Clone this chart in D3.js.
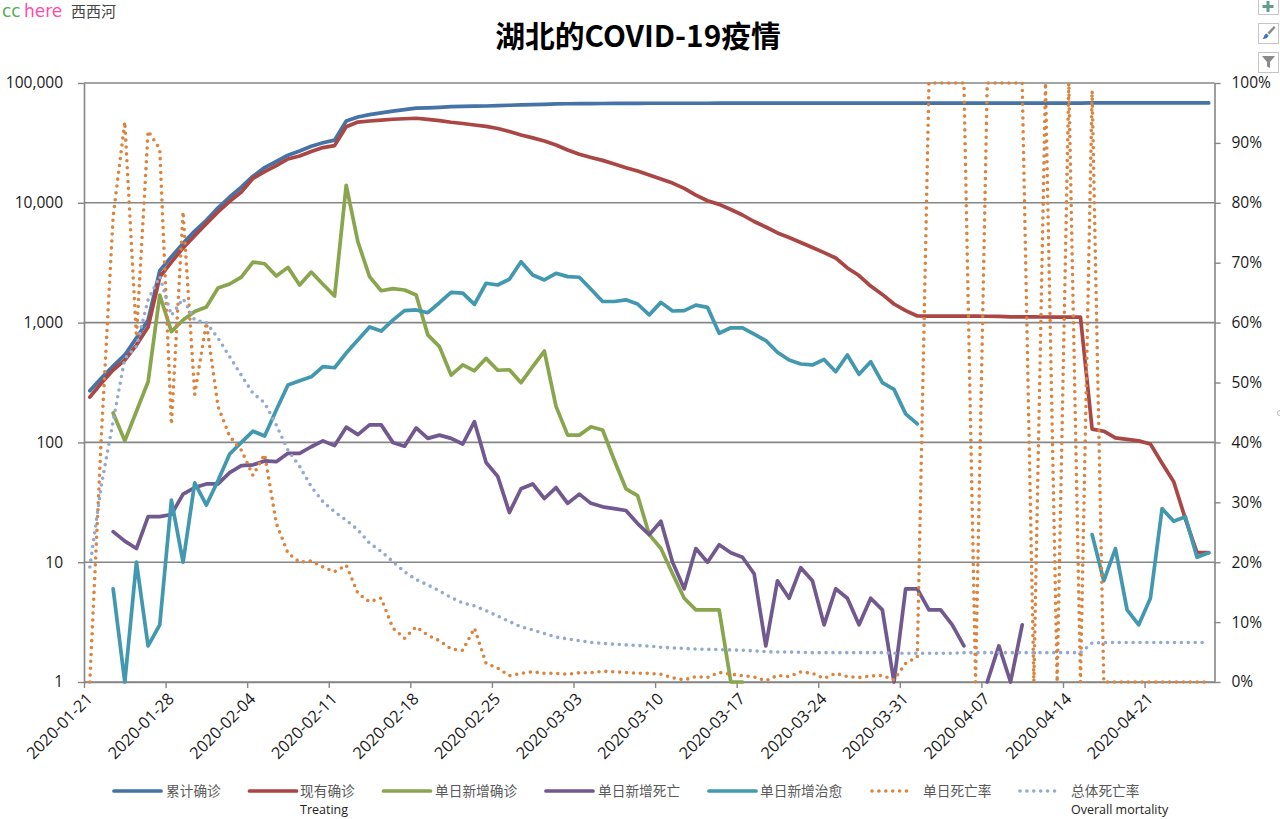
<!DOCTYPE html>
<html>
<head>
<meta charset="utf-8">
<script src="https://cdn.jsdelivr.net/npm/d3@7"></script>
<style>
  html, body { margin: 0; padding: 0; background: #fff; }
  svg { display: block; }
  text { font-family: "Open Sans", "Noto Sans CJK SC", sans-serif; }
  .cjk { font-family: "Noto Sans CJK SC", sans-serif; }
</style>
</head>
<body>
<div id="chart"></div>
<script>
var dates = [
  "2020-01-21","2020-01-22","2020-01-23","2020-01-24","2020-01-25","2020-01-26","2020-01-27","2020-01-28","2020-01-29","2020-01-30",
  "2020-01-31","2020-02-01","2020-02-02","2020-02-03","2020-02-04","2020-02-05","2020-02-06","2020-02-07","2020-02-08","2020-02-09",
  "2020-02-10","2020-02-11","2020-02-12","2020-02-13","2020-02-14","2020-02-15","2020-02-16","2020-02-17","2020-02-18","2020-02-19",
  "2020-02-20","2020-02-21","2020-02-22","2020-02-23","2020-02-24","2020-02-25","2020-02-26","2020-02-27","2020-02-28","2020-02-29",
  "2020-03-01","2020-03-02","2020-03-03","2020-03-04","2020-03-05","2020-03-06","2020-03-07","2020-03-08","2020-03-09","2020-03-10",
  "2020-03-11","2020-03-12","2020-03-13","2020-03-14","2020-03-15","2020-03-16","2020-03-17","2020-03-18","2020-03-19","2020-03-20",
  "2020-03-21","2020-03-22","2020-03-23","2020-03-24","2020-03-25","2020-03-26","2020-03-27","2020-03-28","2020-03-29","2020-03-30",
  "2020-03-31","2020-04-01","2020-04-02","2020-04-03","2020-04-04","2020-04-05","2020-04-06","2020-04-07","2020-04-08","2020-04-09",
  "2020-04-10","2020-04-11","2020-04-12","2020-04-13","2020-04-14","2020-04-15","2020-04-16","2020-04-17","2020-04-18","2020-04-19",
  "2020-04-20","2020-04-21","2020-04-22","2020-04-23","2020-04-24","2020-04-25","2020-04-26"
];

var tickLabels = ["2020-01-21","2020-01-28","2020-02-04","2020-02-11","2020-02-18","2020-02-25","2020-03-03",
  "2020-03-10","2020-03-17","2020-03-24","2020-03-31","2020-04-07","2020-04-14","2020-04-21"];
var leftTicks = [1, 10, 100, 1000, 10000, 100000];
var rightTicks = [0, 0.1, 0.2, 0.3, 0.4, 0.5, 0.6, 0.7, 0.8, 0.9, 1];

var total = [
  270,345,434,537,745,1052,2714,3554,4586,5806,
  7153,9074,11177,13522,16678,19665,22112,24953,27100,29631,
  31728,33366,48206,51986,54406,56249,58182,59989,61682,62031,
  62662,63454,63889,64084,64287,64786,65187,65596,65914,66337,
  66907,67103,67217,67332,67466,67592,67666,67707,67743,67760,
  67773,67781,67786,67790,67794,67798,67799,67800,67800,67800,
  67800,67801,67801,67801,67801,67801,67801,67801,67802,67802,
  67802,67802,67802,67802,67802,67802,67803,67803,67803,67803,
  67803,67803,67803,67803,67803,67803,68128,68128,68128,68128,
  68128,68128,68128,68128,68128,68128,68128
];
var treating = [
  239,313,402,487,650,919,2400,3200,4200,5300,
  6700,8400,10300,12300,16000,18200,20400,23200,24600,26800,
  28900,30000,43150,47200,48200,49000,49800,50300,50800,49700,
  48500,47000,45900,44600,43500,41700,39400,36800,34800,32800,
  30400,27600,25400,23900,22600,21100,19600,18400,17100,15800,
  14600,13200,11600,10400,9700,8790,7910,6980,6280,5600,
  5130,4660,4230,3840,3460,2860,2470,2020,1720,1430,
  1260,1135,1134,1134,1133,1132,1131,1130,1125,1118,
  1116,1115,1114,1113,1112,1110,129,124,109,106,
  103,97,67,47,23,12,12
];
var newConfirmed = [
  null,null,176,103,182,321,1700,840,1050,1240,
  1350,1945,2100,2400,3200,3100,2450,2890,2060,2640,
  2090,1665,14000,4730,2420,1845,1920,1870,1700,790,
  630,365,443,396,503,400,404,315,429,579,
  200,115,115,135,127,71,41,36,17,13,
  8,5,4,4,4,1,1,null,null,null,
  null,null,null,null,null,null,null,null,null,null,
  null,null,null,null,null,null,null,null,null,null,
  null,null,null,null,null,null,null,null,null,null,
  null,null,null,null,null,null,null
];
var newDeaths = [
  null,null,18,15,13,24,24,25,37,42,
  45,45,56,64,65,70,69,81,81,92,
  103,94,134,116,140,140,100,93,132,108,
  115,108,97,149,68,52,26,41,45,34,
  42,31,37,31,29,28,27,21,17,22,
  10,6,13,10,14,12,11,8,2,7,
  5,9,7,3,6,5,3,5,4,1,
  6,6,4,4,3,2,null,1,2,1,
  3,null,null,null,null,null,null,null,null,null,
  null,null,null,null,null,null,null
];
var newRecovered = [
  null,null,6,1,10,2,3,33,10,46,
  30,48,80,100,124,113,186,301,327,353,
  429,420,557,716,919,850,1050,1260,1275,1210,
  1465,1790,1760,1420,2130,2060,2300,3220,2500,2270,
  2580,2420,2390,1900,1500,1500,1550,1430,1160,1475,
  1250,1260,1400,1340,815,905,905,800,708,565,
  487,451,443,493,389,537,370,472,315,277,
  173,143,null,null,null,null,null,null,null,null,
  null,null,null,null,null,null,17,7,13,4,
  3,5,28,22,24,11,12
];
var dailyRate = [
  0,0.415,0.777,0.935,0.576,0.92,0.89,0.43,0.785,0.48,
  0.6,0.46,0.41,0.387,0.345,0.38,0.265,0.215,0.2,0.202,
  0.192,0.184,0.195,0.148,0.134,0.14,0.09,0.073,0.092,0.078,
  0.069,0.055,0.053,0.09,0.031,0.023,0.0105,0.0145,0.017,0.0145,
  0.0145,0.013,0.0155,0.0155,0.018,0.017,0.016,0.0145,0.0145,0.013,
  0.007,0.0035,0.009,0.0075,0.016,0.013,0.0105,0.0085,0.002,0.011,
  0.009,0.017,0.0145,0.006,0.0145,0.009,0.0075,0.01,0.011,0.0035,
  0.031,0.042,1,1,1,1,0,1,1,1,
  1,0,1,0,1,0,0.987,0,0,0,
  0,0,0,0,0,0,0
];
var overallRate = [
  0.192,0.33,0.435,0.54,0.56,0.638,0.677,0.612,0.64,0.604,
  0.6,0.574,0.543,0.512,0.482,0.466,0.429,0.387,0.36,0.326,
  0.301,0.284,0.27,0.254,0.232,0.218,0.201,0.184,0.171,0.162,
  0.152,0.141,0.132,0.127,0.119,0.11,0.101,0.092,0.087,0.081,
  0.075,0.072,0.069,0.066,0.0645,0.063,0.062,0.061,0.06,0.058,
  0.057,0.056,0.055,0.0545,0.054,0.0535,0.053,0.052,0.0505,0.05,
  0.05,0.0495,0.049,0.049,0.049,0.049,0.049,0.049,0.049,0.048,
  0.048,0.048,0.048,0.048,0.048,0.049,0.049,0.049,0.049,0.049,
  0.049,0.049,0.049,0.049,0.049,0.049,0.065,0.066,0.066,0.066,
  0.066,0.066,0.066,0.066,0.066,0.066,0.066
];

var seriesNames = ["累计确诊","现有确诊","单日新增确诊","单日新增死亡","单日新增治愈","单日死亡率","总体死亡率"];
var seriesColors = ["#4572A7","#AA4643","#89A54E","#71588F","#4198AF","#DB843D","#93A9CF"];

var svgWidth = 1280;
var svgHeight = 819;
var margin = { top: 83, right: 1214.5, bottom: 682, left: 84 };
var gridColor = "#868686";

var svg = d3.select("#chart")
  .append("svg")
  .attr("width", svgWidth)
  .attr("height", svgHeight);

var parseDate = d3.utcParse("%Y-%m-%d");
var dayList = dates.map(parseDate);

var xScale = d3.scaleUtc()
  .domain([dayList[0], d3.utcDay.offset(dayList[dayList.length - 1], 1)])
  .range([margin.left, margin.right]);
var yLeft = d3.scaleLog().domain([1, 100000]).range([margin.bottom, margin.top]);
var yRight = d3.scaleLinear().domain([0, 1]).range([margin.bottom, margin.top]);

// points sit in the middle of each day's slot, ticks on the slot edges
function xMid(i) { return xScale(d3.utcHour.offset(dayList[i], 12)); }

// gridlines
svg.append("g").selectAll("line")
  .data(leftTicks)
  .enter()
  .append("line")
  .attr("x1", margin.left)
  .attr("x2", margin.right)
  .attr("y1", d => yLeft(d))
  .attr("y2", d => yLeft(d))
  .attr("stroke", gridColor)
  .attr("stroke-width", 1.6);

function styleAxis(g) {
  g.selectAll(".domain").attr("stroke", gridColor).attr("stroke-width", 1.6);
  g.selectAll(".tick line").attr("stroke", gridColor).attr("stroke-width", 1.4);
  g.selectAll(".tick text").attr("fill", "#1a1a1a").style("font-size", "15.5px");
}

var leftAxis = d3.axisLeft(yLeft)
  .tickValues(leftTicks)
  .tickFormat(d3.format(","))
  .tickSize(6)
  .tickPadding(15)
  .tickSizeOuter(0);
svg.append("g")
  .attr("transform", `translate(${margin.left}, 0)`)
  .call(leftAxis)
  .call(styleAxis);

var rightAxis = d3.axisRight(yRight)
  .tickValues(rightTicks)
  .tickFormat(d3.format(".0%"))
  .tickSize(6)
  .tickPadding(11)
  .tickSizeOuter(0);
svg.append("g")
  .attr("transform", `translate(${margin.right}, 0)`)
  .call(rightAxis)
  .call(styleAxis);

var bottomAxis = d3.axisBottom(xScale)
  .tickValues(tickLabels.map(parseDate))
  .tickFormat(d3.utcFormat("%Y-%m-%d"))
  .tickSize(6)
  .tickSizeOuter(0);
svg.append("g")
  .attr("transform", `translate(0, ${margin.bottom})`)
  .call(bottomAxis)
  .call(styleAxis)
  .selectAll(".tick text")
  .style("font-size", "16.3px")
  .attr("text-anchor", "end")
  .attr("x", 9)
  .attr("y", 18)
  .attr("dy", 0)
  .attr("transform", "rotate(-45, 9, 18)");

// series
var solidSeries = [
  { values: total, scale: yLeft, color: 0 },
  { values: treating, scale: yLeft, color: 1 },
  { values: newConfirmed, scale: yLeft, color: 2 },
  { values: newDeaths, scale: yLeft, color: 3 },
  { values: newRecovered, scale: yLeft, color: 4 }
];
var dottedSeries = [
  { values: dailyRate, scale: yRight, color: 5 },
  { values: overallRate, scale: yRight, color: 6 }
];

function drawLine(s, dotted) {
  var line = d3.line()
    .defined(d => d !== null)
    .x((d, i) => xMid(i))
    .y(d => s.scale(d));
  var path = svg.append("path")
    .datum(s.values)
    .attr("d", line)
    .attr("fill", "none")
    .attr("stroke", seriesColors[s.color])
    .attr("stroke-linejoin", "round")
    .attr("stroke-linecap", "round");
  if (dotted) {
    path.attr("stroke-width", 3.6).attr("stroke-dasharray", "0 6.9");
  } else {
    path.attr("stroke-width", 3.7);
  }
}
solidSeries.forEach(s => drawLine(s, false));
dottedSeries.forEach(s => drawLine(s, true));

// title
svg.append("text")
  .attr("x", 638)
  .attr("y", 47)
  .attr("text-anchor", "middle")
  .attr("class", "cjk")
  .attr("fill", "#000")
  .style("font-size", "29.8px")
  .style("font-weight", "bold")
  .text("湖北的COVID-19疫情");

// legend
var legendX = [114, 249.5, 383.5, 546, 709, 872, 1020];
var legendText = [166, 300, 435, 598, 760, 923, 1071];
var legendDotEnd = 38;
var legendY = 791;

seriesNames.forEach(function(name, i) {
  var dotted = i >= 5;
  var item = svg.append("line")
    .attr("x1", legendX[i])
    .attr("x2", legendX[i] + (dotted ? legendDotEnd : 47))
    .attr("y1", legendY)
    .attr("y2", legendY)
    .attr("stroke", seriesColors[i])
    .attr("stroke-linecap", "round");
  if (dotted) {
    item.attr("stroke-width", 3.6).attr("stroke-dasharray", "0 6.9");
  } else {
    item.attr("stroke-width", 3.7);
  }
  svg.append("text")
    .attr("x", legendText[i])
    .attr("y", legendY + 4.5)
    .attr("class", "cjk")
    .attr("fill", "#595959")
    .style("font-size", "13.7px")
    .text(name);
});

svg.append("text")
  .attr("x", 300).attr("y", 814)
  .attr("fill", "#222").style("font-size", "12.5px")
  .text("Treating");
svg.append("text")
  .attr("x", 1071).attr("y", 814)
  .attr("fill", "#222").style("font-size", "12.5px")
  .text("Overall mortality");

// page header, top left
var headerFont = "DejaVu Sans";
svg.append("text").attr("x", 2).attr("y", 17).attr("fill", "#4CAF50")
  .style("font-family", headerFont).style("font-size", "17px").text("cc");
svg.append("text").attr("x", 24).attr("y", 17).attr("fill", "#FF4DA6")
  .style("font-family", headerFont).style("font-size", "17px").text("here");
svg.append("text").attr("x", 71).attr("y", 17).attr("class", "cjk").attr("fill", "#444")
  .style("font-size", "15px").text("西西河");

// chart buttons, top right
var buttonY = [-6, 23, 52];
svg.append("g").selectAll("rect")
  .data(buttonY)
  .enter()
  .append("rect")
  .attr("x", 1258.5)
  .attr("y", d => d + 0.5)
  .attr("width", 20)
  .attr("height", 20)
  .attr("fill", "#fff")
  .attr("stroke", "#c6c6c6");
svg.append("path")
  .attr("d", "M1266.5 1h3v4h4v3h-4v4h-3v-4h-4v-3h4z")
  .attr("fill", "#5E9E8C");
svg.append("path")
  .attr("d", "M1274 26l1.5 1.5-6 7-2-2z")
  .attr("fill", "#8a8a8a");
svg.append("path")
  .attr("d", "M1266.5 33.5l2 2c-.5 2.5-3 3.5-6 3.5 1.5-1.5 1.5-4.5 4-5.5z")
  .attr("fill", "#3F74B5");
svg.append("path")
  .attr("d", "M1262 56h13l-5 6v6l-3-1.5v-4.5z")
  .attr("fill", "#8a8a8a");

// resize handle peeking in at the right edge
svg.append("circle")
  .attr("cx", 1280)
  .attr("cy", 413)
  .attr("r", 2.5)
  .attr("fill", "none")
  .attr("stroke", "#b5b5b5");
</script>
</body>
</html>
